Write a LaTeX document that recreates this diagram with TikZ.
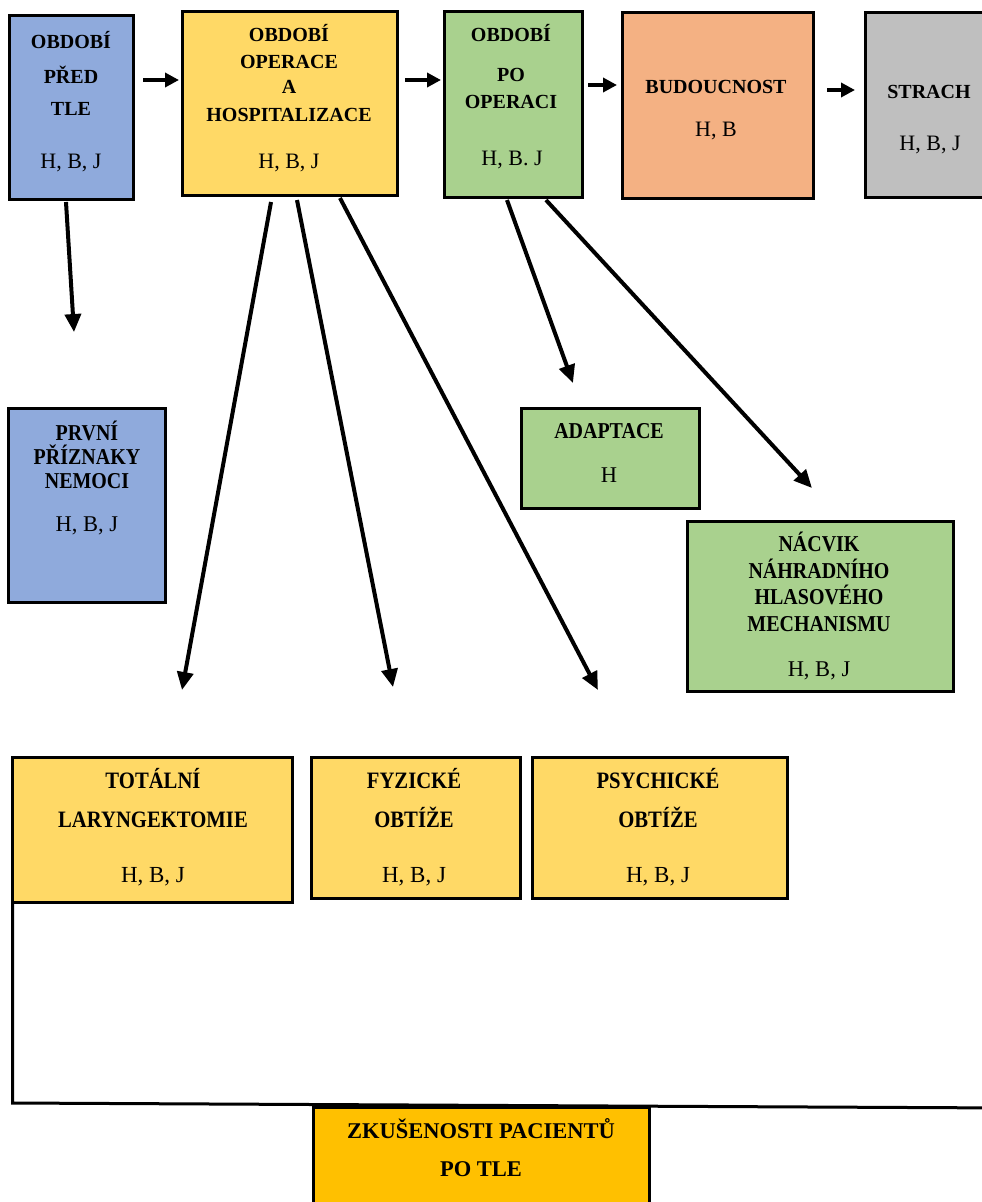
\documentclass[tikz,border=0pt]{standalone}
\usepackage{fontspec}
\setmainfont{Liberation Serif}
\newfontfamily\fcond[FakeStretch=0.88]{Liberation Serif}
\usetikzlibrary{arrows.meta}
\definecolor{cblue}{HTML}{8FAADC}
\definecolor{cyellow}{HTML}{FFD966}
\definecolor{cgreen}{HTML}{A9D18E}
\definecolor{corange}{HTML}{F4B183}
\definecolor{cgray}{HTML}{BFBFBF}
\definecolor{cgold}{HTML}{FFC000}
\newcommand{\boxat}[6]{\node[box, fill=#2, minimum width=#5pt, minimum height=#6pt] (#1) at (#3,#4) {};}
\begin{document}
\begin{tikzpicture}[x=1pt,y=-1pt,
  box/.style={draw=black, line width=3pt, inner sep=0pt, outer sep=0pt},
  arr/.style={line width=4pt, -{Triangle[length=18pt,width=16pt]}},
  harr/.style={line width=4.5pt, -{Triangle[length=14pt,width=14pt]}},
  frame/.style={line width=3pt, line join=miter},
  txt/.style={anchor=base, inner sep=0pt, outer sep=0pt},
  tt/.style={txt, font=\bfseries\fontsize{20}{24}\selectfont},
  tc/.style={txt, font=\fontsize{22}{26}\selectfont},
  mt/.style={txt, font=\fcond\bfseries\fontsize{22.7}{26}\selectfont},
  mc/.style={txt, font=\fontsize{22.5}{26}\selectfont},
  bt/.style={txt, font=\fcond\bfseries\fontsize{23.5}{27}\selectfont},
  bc/.style={txt, font=\fontsize{23}{27}\selectfont},
  zt/.style={txt, font=\bfseries\fontsize{22.5}{26}\selectfont}]
\useasboundingbox (0,0) rectangle (982,1202);
\fill[white] (0,0) rectangle (982,1202);
\clip (0,0) rectangle (982,1202);

% frame line
\coordinate (fc) at (12.5,1103);
\coordinate (fe) at (1010,1108);

% boxes
\boxat{b1}{cblue}{71.5}{107.25}{124}{183.5}
\boxat{b2}{cyellow}{289.5}{103.35}{215}{183.3}
\boxat{b3}{cgreen}{513}{104}{138}{186}
\boxat{b4}{corange}{717.5}{105}{191}{186}
\boxat{b5}{cgray}{937.5}{105}{145}{185}
\boxat{b6}{cblue}{86.75}{505}{156.5}{194}
\boxat{b7}{cgreen}{610}{458}{178}{100}
\boxat{b8}{cgreen}{820}{606.5}{266}{170}
\boxat{b9}{cyellow}{152.25}{829.5}{279.5}{145}
\boxat{b10}{cyellow}{415.5}{827.5}{209}{141}
\boxat{b11}{cyellow}{659.5}{827.5}{255}{141}
\draw[frame] (b9.south west) -- (fc) -- (fe);
\boxat{b12}{cgold}{481}{1183.5}{336}{153}

% texts
\node[tt] (t1a) at (71,48.3) {OBDOBÍ};
\node[tt] (t1b) at (71,83.3) {PŘED};
\node[tt] (t1c) at (71,115) {TLE};
\node[tc] (t1d) at (71,168) {H, B, J};

\node[tt] (t2a) at (289,41.7) {OBDOBÍ};
\node[tt] (t2b) at (289,68.3) {OPERACE};
\node[tt] (t2c) at (289,93.3) {A};
\node[tt] (t2d) at (289,121.7) {HOSPITALIZACE};
\node[tc] (t2e) at (289,168.3) {H, B, J};

\node[tt] (t3a) at (511,41.7) {OBDOBÍ};
\node[tt] (t3b) at (511,81.7) {PO};
\node[tt] (t3c) at (511,108.3) {OPERACI};
\node[tc] (t3d) at (512,165) {H, B. J};

\node[tt] (t4a) at (716,93.3) {BUDOUCNOST};
\node[tc] (t4b) at (716,136.7) {H, B};

\node[tt] (t5a) at (929,98.3) {STRACH};
\node[tc] (t5b) at (930,150) {H, B, J};

\node[mt] (t6a) at (87,440) {PRVNÍ};
\node[mt] (t6b) at (87,464.5) {PŘÍZNAKY};
\node[mt] (t6c) at (87,488) {NEMOCI};
\node[mc] (t6d) at (87,531.5) {H, B, J};

\node[mt] (t7a) at (609,438.3) {ADAPTACE};
\node[mc] (t7b) at (609,482.7) {H};

\node[mt] (t8a) at (819,551.7) {NÁCVIK};
\node[mt] (t8b) at (819,578) {NÁHRADNÍHO};
\node[mt] (t8c) at (819,604.7) {HLASOVÉHO};
\node[mt] (t8d) at (819,631.3) {MECHANISMU};
\node[mc] (t8e) at (819,676.7) {H, B, J};

\node[bt] (t9a) at (153,788.3) {TOTÁLNÍ};
\node[bt] (t9b) at (153,827.3) {LARYNGEKTOMIE};
\node[bc] (t9c) at (153,882) {H, B, J};

\node[bt] (t10a) at (414,788.3) {FYZICKÉ};
\node[bt] (t10b) at (414,827.3) {OBTÍŽE};
\node[bc] (t10c) at (414,882) {H, B, J};

\node[bt] (t11a) at (658,788.3) {PSYCHICKÉ};
\node[bt] (t11b) at (658,827.3) {OBTÍŽE};
\node[bc] (t11c) at (658,882) {H, B, J};

\node[zt] (t12a) at (481,1138.3) {ZKUŠENOSTI PACIENTŮ};
\node[zt] (t12b) at (481,1176.7) {PO TLE};

% horizontal arrows
\draw[harr, shorten <=9.5pt, shorten >=3pt] (b1.east |- 0,80) -- (b2.west |- 0,80);
\draw[harr, shorten <=8pt, shorten >=3pt] (b2.east |- 0,80) -- (b3.west |- 0,80);
\draw[harr, shorten <=6pt, shorten >=5pt] (b3.east |- 0,85) -- (b4.west |- 0,85);
\draw[harr, shorten <=14pt, shorten >=10pt] (b4.east |- 0,90) -- (b5.west |- 0,90);

% vertical arrows
\draw[arr, shorten <=3pt, shorten >=76.1pt] (b1.south -| 65.8,0) -- (b6.north -| 78.7,0);
\draw[arr, shorten <=7.1pt, shorten >=68.1pt] (b2.south -| 272.3,0) -- (b9.north -| 169.8,0);
\draw[arr, shorten <=5.1pt, shorten >=71.3pt] (b2.south -| 296,0) -- (b10.north -| 406.8,0);
\draw[arr, shorten <=3.4pt, shorten >=75.7pt] (b2.south -| 338.4,0) -- (b11.north -| 633.1,0);
\draw[arr, shorten <=3.2pt, shorten >=26.6pt] (b3.south -| 505.9,0) -- (b7.north -| 582,0);
\draw[arr, shorten <=4.1pt, shorten >=45.6pt] (b3.south -| 543.2,0) -- (b8.north -| 842.9,0);
\end{tikzpicture}
\end{document}
